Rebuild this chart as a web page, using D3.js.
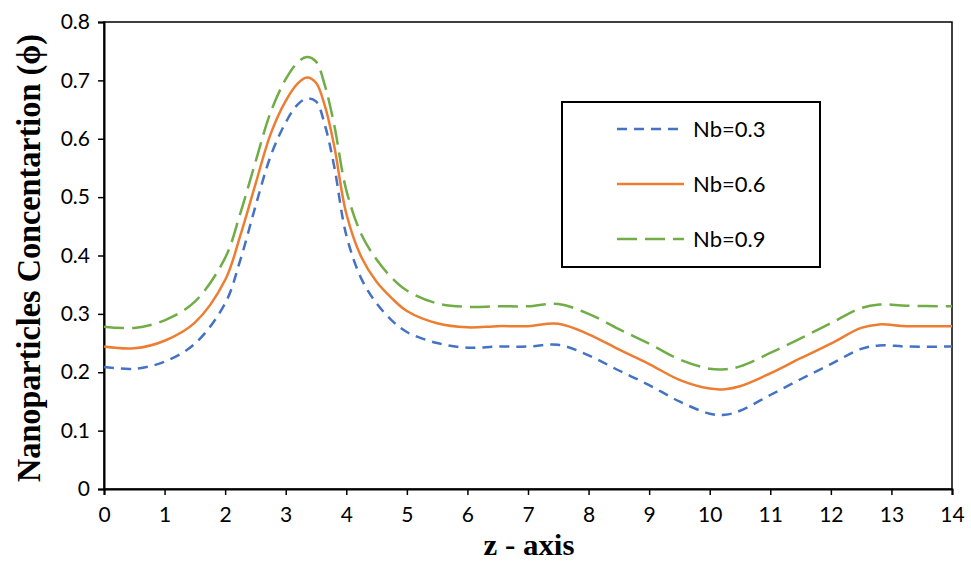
<!DOCTYPE html>
<html>
<head>
<meta charset="utf-8">
<script src="https://cdn.jsdelivr.net/npm/d3@7"></script>
<style>
  body { margin: 0; background: #fff; }
  svg { display: block; }
</style>
</head>
<body>
<svg id="chart" width="971" height="562"></svg>
<script>
// ###############
// data
// ###############
var zValues = [0, 0.5, 1, 1.5, 2, 2.25, 2.5, 2.75, 3, 3.2, 3.35, 3.5, 3.65, 3.8, 4, 4.25, 4.5, 4.75,
               5, 5.5, 6, 6.5, 7, 7.5, 8, 8.5, 9, 9.5, 10, 10.25, 10.5, 11, 11.5, 12, 12.5, 12.8, 13.25, 14];

var nb03 = [0.209, 0.206, 0.218, 0.249, 0.318, 0.392, 0.484, 0.570, 0.628, 0.659, 0.669, 0.664, 0.622, 0.553, 0.435, 0.360, 0.318, 0.289,
            0.269, 0.250, 0.242, 0.244, 0.244, 0.247, 0.229, 0.203, 0.178, 0.150, 0.129, 0.127, 0.134, 0.161, 0.188, 0.214, 0.240, 0.246, 0.244, 0.244];

var nb06 = [0.244, 0.241, 0.254, 0.285, 0.358, 0.434, 0.522, 0.608, 0.665, 0.695, 0.705, 0.696, 0.655, 0.588, 0.472, 0.397, 0.355, 0.327,
            0.305, 0.284, 0.277, 0.279, 0.279, 0.283, 0.265, 0.239, 0.214, 0.187, 0.172, 0.171, 0.176, 0.198, 0.224, 0.249, 0.276, 0.282, 0.279, 0.279];

var nb09 = [0.278, 0.276, 0.289, 0.321, 0.396, 0.472, 0.560, 0.645, 0.702, 0.731, 0.740, 0.732, 0.690, 0.624, 0.512, 0.436, 0.393, 0.362,
            0.340, 0.318, 0.312, 0.313, 0.313, 0.317, 0.300, 0.274, 0.249, 0.222, 0.206, 0.205, 0.210, 0.233, 0.258, 0.284, 0.310, 0.316, 0.314, 0.313];

var seriesNames = ["Nb=0.3", "Nb=0.6", "Nb=0.9"];
var seriesColors = ["#4472C4", "#ED7D31", "#70AD47"];
var seriesDash = ["10,7", null, "20,8"];
var xTicks = d3.range(0, 15, 1);
var yTicks = [0, 0.1, 0.2, 0.3, 0.4, 0.5, 0.6, 0.7, 0.8];

// ###############
// layout  (note: "top" is taken by window.top, so plot edges get a prefix)
// ###############
var svg = d3.select("#chart");
var plotLeft = 104, plotRight = 952, plotTop = 22, plotBottom = 489;

var x = d3.scaleLinear().domain([0, 14]).range([plotLeft, plotRight]);
var y = d3.scaleLinear().domain([0, 0.8]).range([plotBottom, plotTop]);

// plot frame
svg.append("rect")
    .attr("x", plotLeft).attr("y", plotTop)
    .attr("width", plotRight - plotLeft).attr("height", plotBottom - plotTop)
    .attr("fill", "none").attr("stroke", "#000").attr("stroke-width", 1.5);

// axes
var xAxis = svg.append("g")
    .attr("transform", "translate(0," + plotBottom + ")")
    .call(d3.axisBottom(x).tickValues(xTicks).tickSize(6).tickPadding(12).tickFormat(d3.format("d")));
var yAxis = svg.append("g")
    .attr("transform", "translate(" + plotLeft + ",0)")
    .call(d3.axisLeft(y).tickValues(yTicks).tickSize(6).tickPadding(8).tickFormat(function(d) { return d === 0 ? "0" : d3.format(".1f")(d); }));

[xAxis, yAxis].forEach(function(a) {
    a.select(".domain").attr("stroke", "#000").attr("stroke-width", 2);
    a.selectAll(".tick line").attr("stroke", "#000").attr("stroke-width", 1.5);
    a.selectAll(".tick text")
        .attr("fill", "#000")
        .style("font-family", "Lato, 'Noto Sans', sans-serif")
        .style("font-size", "21px");
});

// curves
var lineGen = d3.line()
    .x(function(d) { return x(d[0]); })
    .y(function(d) { return y(d[1]); })
    .curve(d3.curveCatmullRom.alpha(0.5));

[nb03, nb06, nb09].forEach(function(vals, i) {
    var pts = zValues.map(function(z, k) { return [z, vals[k]]; });
    svg.append("path")
        .datum(pts)
        .attr("d", lineGen)
        .attr("fill", "none")
        .attr("stroke", seriesColors[i])
        .attr("stroke-width", 2.5)
        .attr("stroke-dasharray", seriesDash[i]);
});

// legend
var legend = svg.append("g");
legend.append("rect")
    .attr("x", 562).attr("y", 102).attr("width", 258).attr("height", 165)
    .attr("fill", "#fff").attr("stroke", "#000").attr("stroke-width", 2);

seriesNames.forEach(function(name, i) {
    var ly = 129 + i * 55;
    legend.append("line")
        .attr("x1", 617).attr("x2", 684).attr("y1", ly).attr("y2", ly)
        .attr("stroke", seriesColors[i]).attr("stroke-width", 2.5)
        .attr("stroke-dasharray", seriesDash[i]);
    legend.append("text")
        .attr("x", 693).attr("y", ly + 8)
        .style("font-family", "Lato, 'Noto Sans', sans-serif")
        .style("font-size", "22px")
        .text(name);
});

// axis titles (the original letters are tall and narrow, so squeeze them to length)
svg.append("text")
    .attr("x", 529).attr("y", 555)
    .attr("text-anchor", "middle")
    .attr("textLength", 91).attr("lengthAdjust", "spacingAndGlyphs")
    .style("font-family", "'Liberation Serif', 'Times New Roman', serif")
    .style("font-weight", "bold")
    .style("font-size", "30px")
    .text("z - axis");

svg.append("text")
    .attr("transform", "translate(40,258) rotate(-90)")
    .attr("text-anchor", "middle")
    .attr("textLength", 448).attr("lengthAdjust", "spacingAndGlyphs")
    .style("font-family", "'Liberation Serif', 'Times New Roman', serif")
    .style("font-weight", "bold")
    .style("font-size", "33px")
    .text("Nanoparticles Concentartion (\u03D5)");
</script>
</body>
</html>
